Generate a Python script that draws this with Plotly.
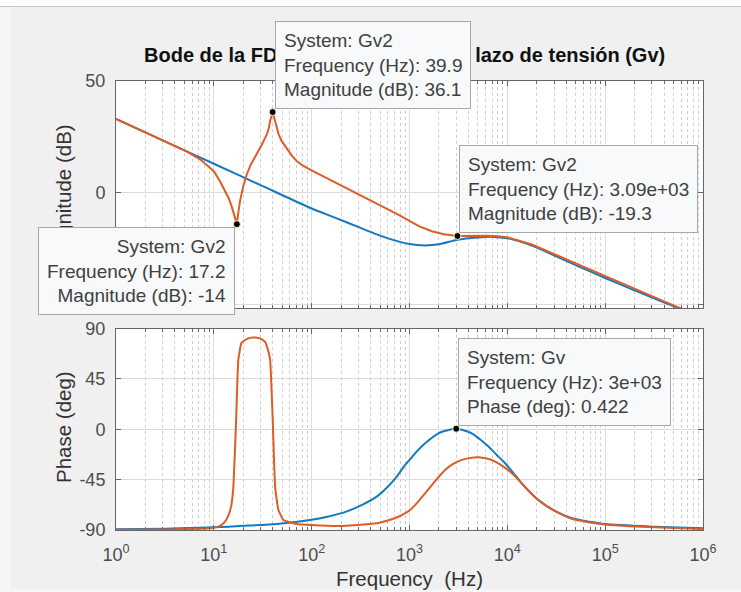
import numpy as np
import plotly.graph_objects as go

W, H = 741, 592

# ---------------------------------------------------------------------------
# Frequency response data (Hz, dB, deg)
# ---------------------------------------------------------------------------
gv_mag_freq = [1, 3.16, 10, 31.6, 100, 178, 316, 562, 1000, 1450, 2000, 3090,
               5000, 7080, 10000, 17800, 31600, 56200, 100000, 178000, 316000,
               562000, 1000000]
gv_mag_db = [33.0, 23.0, 13.0, 3.0, -7.0, -11.3, -15.7, -19.9, -22.9, -23.5,
             -23.0, -21.0, -20.0, -19.7, -20.3, -23.6, -28.4, -33.3, -38.1,
             -42.7, -47.2, -51.5, -55.8]

gv2_mag_freq = [1, 2, 3.16, 5.25, 7.24, 8.91, 10, 11.56, 12.9, 14.1, 15.1, 16.1,
                17.2, 17.8, 18.5, 19.95, 21.7, 24.0, 27.4, 30.9, 34.8, 36.5,
                37.6, 39.9, 42.3, 44.0, 45.7, 49.4, 56.2, 63.0, 70.3, 80.0, 96.4,
                133, 178, 237, 313, 422, 562, 750, 1000, 1260, 1690, 2240, 3090,
                4470, 6310, 7940, 10000, 17800, 31600, 56200, 100000, 178000,
                316000, 562000, 1000000]
gv2_mag_db = [33.0, 27.0, 23.0, 18.5, 15.0, 11.8, 9.7, 5.2, 1.4, -2.2, -5.6,
              -9.7, -14.0, -8.8, -3.8, 2.8, 8.2, 12.8, 17.2, 21.5, 26.1, 29.0,
              32.1, 36.1, 32.1, 28.6, 26.5, 23.1, 19.5, 16.5, 14.2, 12.4, 10.4,
              7.3, 4.6, 1.8, -0.8, -3.7, -6.6, -9.5, -12.5, -15.0, -17.2, -18.5,
              -19.3, -19.2, -19.2, -19.4, -19.9, -23.1, -27.8, -32.6, -37.5,
              -42.1, -46.7, -51.3, -55.7]

gv_ph_freq = [1, 3.16, 10, 20, 44, 96.4, 141, 211, 316, 462, 589, 741, 902,
              1014, 1202, 1445, 1977, 2455, 3000, 3548, 4325, 5248, 6412, 7762,
              9506, 11500, 14060, 17000, 20800, 30900, 45600, 100000, 323600,
              1000000]
gv_ph_deg = [-89.4, -88.8, -87.6, -86.3, -84.6, -81.0, -78.3, -74.5, -68.2,
             -60.2, -52.0, -42.3, -31.9, -26.8, -19.3, -12.5, -3.6, -0.9, 0.422,
             -0.9, -3.6, -8.9, -15.5, -22.8, -30.4, -39.0, -48.3, -56.0, -63.2,
             -73.2, -79.5, -84.6, -87.0, -88.5]

gv2_ph_freq = [1, 3.16, 9.12, 11.5, 13.0, 14.1, 15.1, 15.85, 16.9, 17.8, 19.2,
               21.9, 25.4, 29.5, 33.3, 35.5, 37.6, 40.0, 42.3, 45.7, 51.4, 70.3,
               100, 211, 462, 575, 708, 851, 1014, 1202, 1445, 1820, 2312, 2818,
               3428, 4169, 5070, 6166, 7500, 9120, 11120, 13490, 16440, 19950,
               24380, 33110, 45600, 67600, 100000, 178000, 316000, 1000000]
gv2_ph_deg = [-89.8, -89.5, -88.5, -86.5, -82.6, -77.0, -68.0, -51.3, 8.3, 62.0,
              77.4, 80.8, 81.9, 81.2, 78.3, 72.0, 62.0, 8.3, -51.3, -72.0, -81.0,
              -84.6, -85.6, -86.4, -84.0, -82.0, -79.5, -76.3, -72.1, -65.5,
              -57.2, -46.5, -36.4, -30.8, -27.4, -25.6, -25.0, -26.2, -28.9,
              -33.4, -39.3, -46.8, -55.0, -62.0, -67.8, -74.5, -80.0, -83.0,
              -85.0, -86.6, -87.5, -89.0]

# Data tips: (system, panel, frequency, value)
tips = [
    ("Gv2", "mag", 39.9, 36.1),
    ("Gv2", "mag", 17.2, -14.0),
    ("Gv2", "mag", 3090, -19.3),
    ("Gv", "phase", 3000, 0.422),
]

decades = [1, 10, 100, 1000, 10000, 100000, 1000000]
decade_labels = [f"10<sup>{k}</sup>" for k in range(7)]
mag_ticks = [-50, 0, 50]
phase_ticks = [-90, -45, 0, 45, 90]

# ---------------------------------------------------------------------------
BLUE = "#1479c0"
ORANGE = "#de5c26"
FONT = "Liberation Sans, Arial, sans-serif"
FRAME = "#666666"


def px(x):
    return x / W


def py(y):
    return 1 - y / H


X_DOM = [px(116), px(703)]
MAG_DOM = [py(308), py(81)]
PH_DOM = [py(530), py(328.5)]

fig = go.Figure()

smooth = dict(width=2, shape="spline", smoothing=0.6)
fig.add_trace(go.Scatter(x=gv_mag_freq, y=gv_mag_db, mode="lines", name="Gv",
                         line=dict(color=BLUE, **smooth), xaxis="x", yaxis="y"))
fig.add_trace(go.Scatter(x=gv2_mag_freq, y=gv2_mag_db, mode="lines", name="Gv2",
                         line=dict(color=ORANGE, width=2), xaxis="x", yaxis="y"))
fig.add_trace(go.Scatter(x=gv_ph_freq, y=gv_ph_deg, mode="lines", name="Gv",
                         line=dict(color=BLUE, **smooth), xaxis="x2", yaxis="y2"))
fig.add_trace(go.Scatter(x=gv2_ph_freq, y=gv2_ph_deg, mode="lines", name="Gv2",
                         line=dict(color=ORANGE, width=2, shape="spline", smoothing=0.4),
                         xaxis="x2", yaxis="y2"))

# data tip markers
for sysname, panel, f, v in tips:
    fig.add_trace(go.Scatter(
        x=[f], y=[v], mode="markers",
        marker=dict(size=7, color="black", line=dict(color="#fff6c0", width=1)),
        xaxis="x" if panel == "mag" else "x2",
        yaxis="y" if panel == "mag" else "y2"))

axis_common = dict(
    automargin=False,
    showgrid=True, gridcolor="#dcdcdc", gridwidth=1, zeroline=False,
    showline=True, linecolor=FRAME, linewidth=1, mirror="ticks",
    ticks="inside", ticklen=5, tickcolor=FRAME,
    tickfont=dict(family=FONT, size=18, color="#4d4d4d"),
)
minor_x = dict(dtick="D1", ticks="inside", ticklen=3, tickcolor=FRAME,
               showgrid=True, gridcolor="#cfcfcf", griddash="dot", gridwidth=1)

fig.update_layout(
    template="none",
    width=W, height=H, margin=dict(l=0, r=0, t=0, b=0, pad=0),
    paper_bgcolor="#f6f6f6", plot_bgcolor="white", showlegend=False,
    font=dict(family=FONT),
    xaxis=dict(domain=X_DOM, anchor="y", type="log", range=[0, 6],
               tickmode="array", tickvals=decades, ticktext=decade_labels,
               showticklabels=False, minor=minor_x, **axis_common),
    yaxis=dict(domain=MAG_DOM, anchor="x", range=[-51.5, 50],
               tickmode="array", tickvals=mag_ticks,
               ticktext=[str(t) for t in mag_ticks], ticklabelstandoff=6,
               **axis_common),
    xaxis2=dict(domain=X_DOM, anchor="y2", type="log", range=[0, 6],
                tickmode="array", tickvals=decades, ticktext=decade_labels,
                ticklabelstandoff=8, minor=minor_x, **axis_common),
    yaxis2=dict(domain=PH_DOM, anchor="x2", range=[-90, 90],
                tickmode="array", tickvals=phase_ticks,
                ticktext=[str(t) for t in phase_ticks], ticklabelstandoff=6,
                **axis_common),
)

# figure background: window strip, grey panel and white axes areas
shapes = [
    dict(type="rect", xref="paper", yref="paper", x0=px(11), x1=1,
         y0=py(589), y1=py(7), fillcolor="#f0f0f0", line=dict(width=0), layer="below"),
    dict(type="rect", xref="paper", yref="paper", x0=0, x1=1,
         y0=py(6), y1=1, fillcolor="white", line=dict(width=0), layer="below"),
    dict(type="line", xref="paper", yref="paper", x0=0, x1=1,
         y0=py(6.5), y1=py(6.5), line=dict(color="#c4c4c4", width=1), layer="below"),
    dict(type="rect", xref="paper", yref="paper", x0=X_DOM[0], x1=X_DOM[1],
         y0=MAG_DOM[0], y1=MAG_DOM[1], fillcolor="white", line=dict(width=0), layer="below"),
    dict(type="rect", xref="paper", yref="paper", x0=X_DOM[0], x1=X_DOM[1],
         y0=PH_DOM[0], y1=PH_DOM[1], fillcolor="white", line=dict(width=0), layer="below"),
]
fig.update_layout(shapes=shapes)

annotations = [
    dict(text="<b>Bode de la FDT en lazo abierto del lazo de tensión (Gv)</b>",
         xref="paper", yref="paper", x=px(404), y=py(55),
         xanchor="center", yanchor="middle", showarrow=False,
         font=dict(family=FONT, size=20, color="#111111")),
    dict(text="Magnitude (dB)", xref="paper", yref="paper", x=px(63), y=py(194.5),
         xanchor="center", yanchor="middle", textangle=-90, showarrow=False,
         font=dict(family=FONT, size=20.5, color="#333333")),
    dict(text="Phase (deg)", xref="paper", yref="paper", x=px(63), y=py(427),
         xanchor="center", yanchor="middle", textangle=-90, showarrow=False,
         font=dict(family=FONT, size=20.5, color="#333333")),
    dict(text="Frequency\u00a0 (Hz)", xref="paper", yref="paper", x=px(409.5), y=py(578),
         xanchor="center", yanchor="middle", showarrow=False,
         font=dict(family=FONT, size=20.5, color="#333333")),
]

tip_style = dict(showarrow=False, bgcolor="#f8f9fb", bordercolor="#a8a8a8",
                 borderwidth=1, borderpad=8,
                 font=dict(family=FONT, size=19, color="#404040"))
for sysname, panel, f, v in tips:
    qty = "Magnitude (dB)" if panel == "mag" else "Phase (deg)"
    text = f"System: {sysname}<br>Frequency (Hz): {f:.3g}<br>{qty}: {v:.3g}"
    ax_x, ax_y = ("x", "y") if panel == "mag" else ("x2", "y2")
    if f < 20:
        pos = dict(xanchor="right", yanchor="top", align="right", xshift=-2, yshift=-3)
    else:
        pos = dict(xanchor="left", yanchor="bottom", align="left", xshift=2, yshift=3)
    annotations.append(dict(text=text, xref=ax_x, yref=ax_y, x=np.log10(f), y=v,
                            **pos, **tip_style))

fig.update_layout(annotations=annotations)

fig.write_html("out.html")
